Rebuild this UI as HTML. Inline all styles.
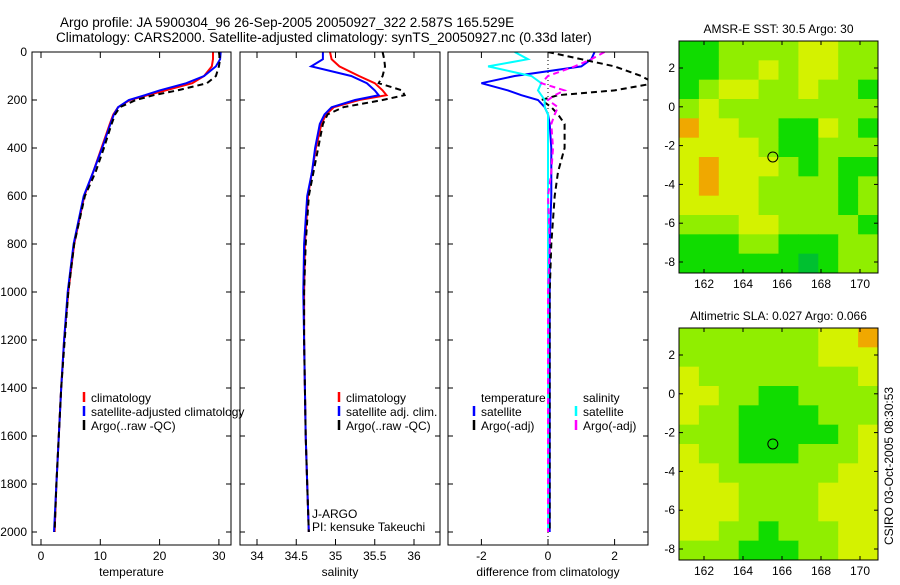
<!DOCTYPE html>
<html><head><meta charset="utf-8"><style>
body{margin:0;background:#fff;width:900px;height:580px;overflow:hidden}
svg{font-family:"Liberation Sans",sans-serif;}
</style></head><body>
<svg id="fig" width="900" height="580" viewBox="0 0 900 580" xmlns="http://www.w3.org/2000/svg">
<text x="60" y="27" font-size="13.5">Argo profile: JA 5900304_96 26-Sep-2005 20050927_322 2.587S 165.529E</text>
<text x="56" y="42" font-size="13.5">Climatology: CARS2000. Satellite-adjusted climatology: synTS_20050927.nc (0.33d later)</text>
<g id="g"></g>
<text transform="translate(893,545) rotate(-90)" font-size="12">CSIRO 03-Oct-2005 08:30:53</text>
</svg>
<script>
// ---- data ----
const depths = [0,30,60,100,130,160,180,200,230,260,300,400,500,600,800,1000,1200,1400,1600,1800,2000];
const tempClim = [29,29,28.8,27.5,25.5,21,18,15,13,12.2,11.6,10.2,8.8,7.3,5.6,4.6,3.9,3.4,3.0,2.6,2.3];
const tempSat  = [30.3,30.2,29.5,27.5,24.5,20,17.5,14.8,13,12.3,11.7,10.3,8.8,7.2,5.5,4.5,3.9,3.4,3.0,2.6,2.2];
const tempArgo = [30,30.2,30,29.5,28,23,19,16,13.3,12.5,11.9,10.6,9.2,7.4,5.6,4.6,4.0,3.4,3.0,2.6,2.3];
const salClim = [34.93,34.95,35.05,35.3,35.5,35.6,35.65,35.3,34.98,34.88,34.82,34.75,34.7,34.65,34.61,34.6,34.6,34.61,34.62,34.64,34.66];
const salSat  = [34.84,34.84,34.69,35.2,35.4,35.5,35.55,35.25,34.95,34.86,34.8,34.74,34.7,34.64,34.6,34.59,34.6,34.61,34.62,34.64,34.66];
const salArgo = [35.6,35.62,35.63,35.6,35.55,35.85,35.88,35.6,35.1,34.9,34.84,34.78,34.72,34.66,34.62,34.6,34.6,34.61,34.62,34.64,34.66];
const dTempSat  = [1.4,1.3,1.0,-1.0,-2.0,-1.2,-0.8,-0.3,-0.1,0.0,0.05,0.1,0.1,0.1,0.05,0.05,0.05,0.05,0.05,0.05,0.05];
const dTempArgo = [0.0,1.0,2.0,2.8,3.2,2.0,0.3,-0.2,0.1,0.3,0.5,0.5,0.3,0.2,0.1,0.05,0.05,0.05,0.05,0.05,0.05];
const dSalSat   = [-1.0,-0.6,-1.8,-0.5,-0.2,-0.3,-0.2,-0.1,-0.1,0.0,0.0,0.0,0.0,0.0,0.0,0.0,0.0,0.0,0.0,0.0,0.0];
const dSalArgo  = [1.7,1.3,0.8,0.0,-0.2,0.5,0.2,0.0,0.3,0.2,0.1,0.15,0.1,0.0,0.05,0.0,0.0,0.0,0.0,0.0,0.0];
const tempTicks=[0,10,20,30], salTicks=[34,34.5,35,35.5,36], diffTicks=[-2,0,2];
const depthTicks=[0,200,400,600,800,1000,1200,1400,1600,1800,2000];
const sstGrid=[
[1,1,2,2,2,2,3,3,2,2],[1,1,2,2,3,2,3,3,2,2],[1,2,3,3,2,2,3,2,2,1],[2,3,2,2,2,2,2,2,2,2],
[4,3,3,2,2,1,1,3,2,1],[3,3,3,3,2,1,1,2,2,2],[3,4,3,3,3,2,1,2,1,1],[3,4,3,3,2,2,2,2,1,2],
[3,3,3,3,2,2,2,2,1,2],[2,2,2,3,3,2,2,2,2,1],[1,1,1,2,2,1,1,1,2,2],[1,1,1,1,1,1,0,1,2,2]];
const slaGrid=[
[2,2,2,2,2,2,2,3,3,4],[2,2,2,2,2,2,2,3,3,3],[3,2,2,2,2,2,2,2,2,3],[3,3,2,2,1,1,2,2,2,2],
[3,2,2,1,1,1,1,2,2,2],[2,2,2,1,1,1,1,1,2,3],[3,2,2,1,1,1,2,2,2,3],[3,3,2,2,2,2,2,2,3,3],
[3,3,3,2,2,2,2,3,3,3],[3,3,3,2,2,2,2,3,3,3],[3,3,2,2,1,2,2,2,3,3],[2,2,2,1,1,1,2,2,3,3]];
const lonTicks=[162,164,166,168,170], latTicks=[2,0,-2,-4,-6,-8];
const floatPos=[165.53,-2.587];
// ---- drawing ----
const NS="http://www.w3.org/2000/svg", G=document.getElementById('g');
function el(t,a,p){const e=document.createElementNS(NS,t);for(const k in a)e.setAttribute(k,a[k]);(p||G).appendChild(e);return e;}
function txt(s,a,p){const e=el('text',a,p);e.textContent=s;return e;}
const yD=d=>52+0.24*d;
const panels=[
 {x0:32,w:199,sx:v=>41+5.93*v,ticks:tempTicks,label:'temperature',series:[[tempClim,'#f00',''],[tempSat,'#00f',''],[tempArgo,'#000','6,4']]},
 {x0:240,w:200,sx:v=>257+78.5*(v-34),ticks:salTicks,label:'salinity',series:[[salClim,'#f00',''],[salSat,'#00f',''],[salArgo,'#000','6,4']]},
 {x0:448,w:200,sx:v=>548+33.3*v,ticks:diffTicks,label:'difference from climatology',series:[[dTempSat,'#00f',''],[dTempArgo,'#000','6,4'],[dSalSat,'#0ff',''],[dSalArgo,'#f0f','6,4']]}
];
panels.forEach((p,i)=>{
 const g=el('g',{});
 
 
 const cp=el('clipPath',{id:'c'+i},g); el('rect',{x:p.x0,y:52,width:p.w,height:493},cp);
 p.ticks.forEach(t=>{const x=p.sx(t);
  el('line',{x1:x,x2:x,y1:545,y2:539,stroke:'#000'},g);el('line',{x1:x,x2:x,y1:52,y2:58,stroke:'#000'},g);
  const l=txt(String(t),{x:x,y:560,'font-size':12,'text-anchor':'middle'},g);
  
  });
 depthTicks.forEach(d=>{const y=yD(d);
  el('line',{x1:p.x0,x2:p.x0+5,y1:y,y2:y,stroke:'#000'},g);el('line',{x1:p.x0+p.w-5,x2:p.x0+p.w,y1:y,y2:y,stroke:'#000'},g);
  if(i==0){const l=txt(String(d),{x:27,y:y+4,'font-size':12,'text-anchor':'end'},g);
   
   }});
 if(i==2){el('line',{x1:548,x2:548,y1:52,y2:545,stroke:'#000','stroke-dasharray':'1,3'},g);}
 p.series.forEach((s,k)=>{
  const pts=s[0].map((v,j)=>p.sx(v).toFixed(1)+','+yD(depths[j]).toFixed(1)).join(' ');
  const pl=el('polyline',{points:pts,fill:'none',stroke:s[1],'stroke-width':2,'stroke-dasharray':s[2],'clip-path':'url(#c'+i+')'},g);
  
  
 });
 el('rect',{x:p.x0,y:52,width:p.w,height:493,fill:'none',stroke:'#000'},g);
 const xl=txt(p.label,{x:p.x0+p.w/2,y:576,'font-size':12,'text-anchor':'middle'},g);
 
 
});
function legend(x,y,items,name){const g=el('g',{});
 
 
 items.forEach((it,k)=>{const yy=y+k*14;
  if(it[1])el('line',{x1:it[0],x2:it[0],y1:yy-10,y2:yy,stroke:it[1],'stroke-width':2.5},g);
  txt(it[2],{x:it[0]+7,y:yy,'font-size':12},g);});}
legend(84,402,[[84,'#f00','climatology'],[84,'#00f','satellite-adjusted climatology'],[84,'#000','Argo(..raw -QC)']],'temperature-legend');
legend(339,402,[[339,'#f00','climatology'],[339,'#00f','satellite adj. clim.'],[339,'#000','Argo(..raw -QC)']],'salinity-legend');
legend(474,402,[[474,null,'temperature'],[474,'#00f','satellite'],[474,'#000','Argo(-adj)']],'diff-temp-legend');
legend(576,402,[[576,null,'salinity'],[576,'#0ff','satellite'],[576,'#f0f','Argo(-adj)']],'diff-sal-legend');
txt('J-ARGO',{x:312,y:518,'font-size':12});
txt('PI: kensuke Takeuchi',{x:312,y:531,'font-size':12});
const cols=['#00c030','#10dc00','#90ee00','#d4f200','#f0a800'];
function map(y0,grid,title,name){const g=el('g',{});
 
 
 const x0=679,w=199,h=232, lon=v=>704+(v-162)*19.5, lat=v=>y0+27+(2-v)*19.4;
 const cw=w/grid[0].length, ch=h/grid.length;
 grid.forEach((row,r)=>row.forEach((v,c)=>{const rc=el('rect',{x:x0+c*cw,y:y0+r*ch,width:cw+0.5,height:ch+0.5,fill:cols[v]},g);
  
  }));
 el('rect',{x:x0,y:y0,width:w,height:h,fill:'none',stroke:'#000'},g);
 lonTicks.forEach(t=>{const x=lon(t);el('line',{x1:x,x2:x,y1:y0+h,y2:y0+h-4,stroke:'#000'},g);el('line',{x1:x,x2:x,y1:y0,y2:y0+4,stroke:'#000'},g);
  txt(String(t),{x:x,y:y0+h+15,'font-size':12,'text-anchor':'middle'},g);});
 latTicks.forEach(t=>{const y=lat(t);el('line',{x1:x0,x2:x0+4,y1:y,y2:y,stroke:'#000'},g);el('line',{x1:x0+w-4,x2:x0+w,y1:y,y2:y,stroke:'#000'},g);
  txt(String(t),{x:x0-4,y:y+4,'font-size':12,'text-anchor':'end'},g);});
 el('circle',{cx:lon(floatPos[0]),cy:lat(floatPos[1]),r:5,fill:'none',stroke:'#000'},g);
 txt(title,{x:x0+w/2,y:y0-8,'font-size':12,'text-anchor':'middle'},g);}
map(41,sstGrid,'AMSR-E SST: 30.5 Argo: 30','sst-map');
map(328,slaGrid,'Altimetric SLA: 0.027 Argo: 0.066','sla-map');
</script>
</body></html>
